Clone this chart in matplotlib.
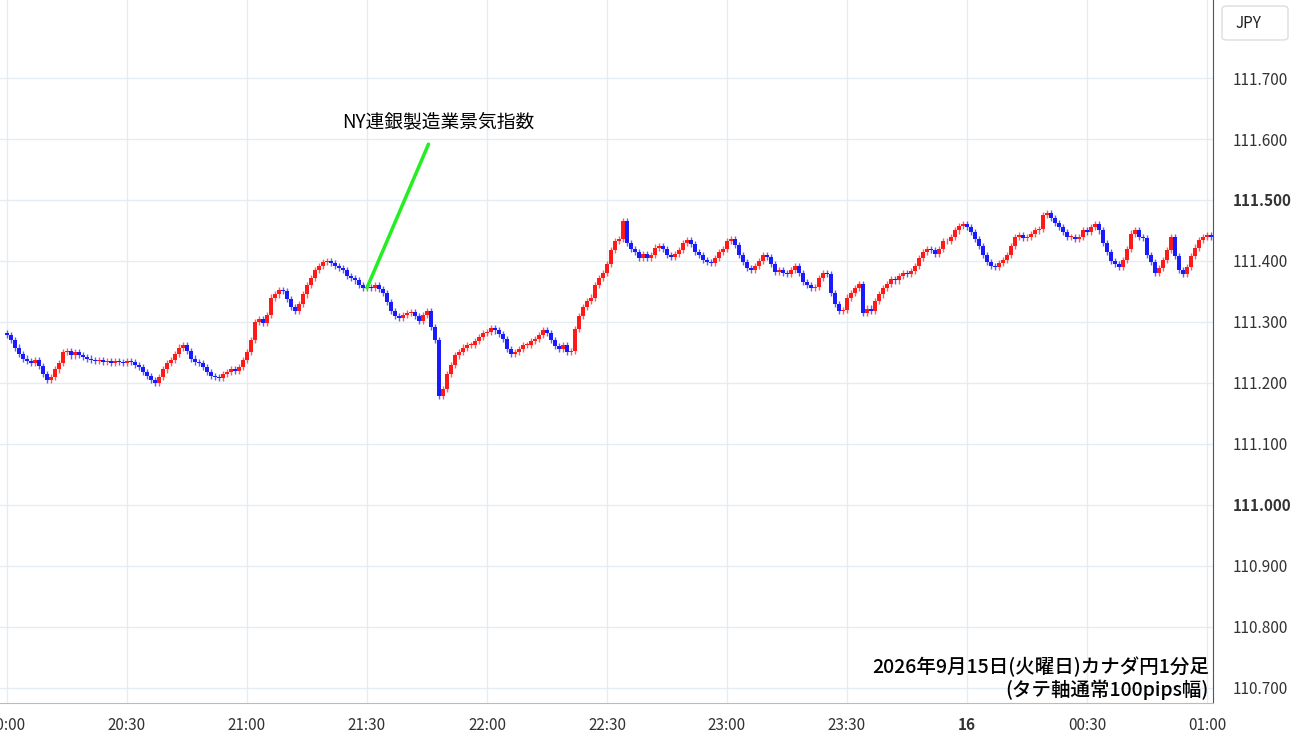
import numpy as np
import matplotlib
matplotlib.use("Agg")
import matplotlib.pyplot as plt
from matplotlib.patches import FancyBboxPatch

plt.rcParams['font.family'] = ['Noto Sans CJK JP', 'DejaVu Sans']

# 1-minute closes, in 0.001 JPY above 111.000, starting 20:00
BASE = 111.000
closes = [
    278, 270, 258, 248, 240, 236, 232, 238, 228, 214,
    205, 210, 222, 232, 250, 252, 245, 250, 246, 242,
    240, 238, 236, 238, 234, 236, 232, 236, 234, 232,
    236, 234, 230, 226, 218, 212, 205, 200, 210, 222,
    232, 238, 248, 258, 262, 252, 240, 235, 232, 226,
    218, 212, 210, 208, 214, 218, 222, 220, 226, 238,
    250, 270, 300, 305, 298, 312, 340, 345, 352, 350,
    338, 325, 318, 330, 345, 360, 372, 385, 392, 398,
    400, 396, 392, 388, 385, 375, 372, 368, 360, 356,
    358, 356, 360, 354, 348, 332, 318, 310, 306, 312,
    314, 316, 310, 302, 312, 318, 292, 270, 178, 190,
    215, 230, 245, 250, 258, 262, 262, 268, 276, 282,
    284, 290, 286, 280, 272, 255, 248, 250, 256, 262,
    262, 268, 272, 278, 286, 282, 270, 260, 256, 262,
    250, 252, 288, 310, 325, 334, 340, 360, 372, 380,
    395, 418, 432, 436, 466, 430, 420, 414, 405, 412,
    405, 410, 422, 425, 420, 410, 406, 412, 418, 430,
    434, 428, 414, 410, 402, 398, 396, 405, 414, 420,
    432, 436, 426, 410, 398, 388, 385, 392, 400, 410,
    406, 395, 382, 385, 380, 378, 385, 392, 380, 365,
    360, 355, 358, 372, 380, 378, 348, 330, 318, 320,
    340, 348, 356, 362, 315, 322, 318, 335, 345, 355,
    362, 370, 368, 375, 380, 378, 384, 392, 405, 414,
    420, 418, 412, 420, 432, 432, 440, 450, 458, 460,
    455, 448, 436, 425, 410, 398, 392, 390, 396, 402,
    410, 425, 440, 442, 438, 440, 444, 450, 452, 475,
    478, 470, 462, 455, 448, 440, 440, 436, 440, 450,
    448, 455, 460, 450, 430, 415, 400, 395, 390, 402,
    420, 445, 450, 440, 438, 410, 398, 380, 388, 402,
    418, 440, 408, 385, 378, 390, 408, 422, 435, 440,
    442, 440,
]
first_open = 282
wick = 5

tick_pos = [0, 30, 60, 90, 120, 150, 180, 210, 240, 270, 300]
tick_lbl = ["20:00", "20:30", "21:00", "21:30", "22:00", "22:30", "23:00",
            "23:30", "16", "00:30", "01:00"]
y_ticks = [110.7, 110.8, 110.9, 111.0, 111.1, 111.2, 111.3, 111.4, 111.5, 111.6, 111.7]

c = BASE + np.array(closes) / 1000
o = np.concatenate([[BASE + first_open / 1000], c[:-1]])
hi = np.maximum(o, c) + wick / 1000
lo = np.minimum(o, c) - wick / 1000
x = np.arange(len(c))

fig = plt.figure(figsize=(13, 7.45), dpi=100)
ax = fig.add_axes([0, 1 - 703 / 745, 1213 / 1300, 703 / 745])
ax.set_xlim(-1.75, 301.5)
ax.set_ylim(110.675, 111.828)

for t in tick_pos:
    ax.axvline(t, color='#e6edf2', lw=1, zorder=0)
for t in y_ticks:
    ax.axhline(t, color='#e6edf2', lw=1, zorder=0)

up = c >= o
col = np.where(up, '#ff1a1a', '#1a1aff')
ax.vlines(x, lo, hi, colors=col, lw=1, alpha=0.7, zorder=2)
ax.bar(x, np.maximum(np.abs(c - o), 0.001), bottom=np.minimum(o, c), width=0.8,
       color=col, zorder=3)

ax.set_xticks(tick_pos)
ax.set_xticklabels(tick_lbl, fontsize=11, color='#333333')
for lbl in ax.get_xticklabels():
    if lbl.get_text() == "16":
        lbl.set_fontweight('bold')
ax.tick_params(axis='x', length=0, pad=10)
ax.yaxis.tick_right()
ax.set_yticks(y_ticks)
ax.set_yticklabels([f"{v:.3f}" for v in y_ticks], fontsize=11, color='#333333')
for lbl in ax.get_yticklabels():
    if lbl.get_text() in ("111.500", "111.000"):
        lbl.set_fontweight('bold')
ax.tick_params(axis='y', length=0, pad=14)
for s in ['top', 'left']:
    ax.spines[s].set_visible(False)
ax.spines['right'].set_color('#555555')
ax.spines['bottom'].set_color('#bbbbbb')

# event annotation
ax.annotate("NY連銀製造業景気指数", xy=(90, 111.356), xytext=(107.75, 111.628),
            ha='center', va='center', fontsize=13.5,
            arrowprops=dict(arrowstyle='-', color='#22ee22', lw=2.5,
                            shrinkA=7, shrinkB=0))

ax.text(300.5, 110.735, "2026年9月15日(火曜日)カナダ円1分足", ha='right', va='center',
        fontsize=14, fontweight='medium')
ax.text(300.5, 110.697, "(タテ軸通常100pips幅)", ha='right', va='center',
        fontsize=14, fontweight='medium')

box = FancyBboxPatch((1222 / 1300, 1 - 40 / 745), 66 / 1300, 34 / 745,
                     boxstyle="round,pad=0,rounding_size=0.004",
                     transform=fig.transFigure, fc='white', ec='#dddddd', lw=1)
fig.patches.append(box)
fig.text(1248 / 1300, 1 - 23 / 745, "JPY", ha='center', va='center', fontsize=11,
         color='#222222')

fig.savefig("out.png", dpi=100)
